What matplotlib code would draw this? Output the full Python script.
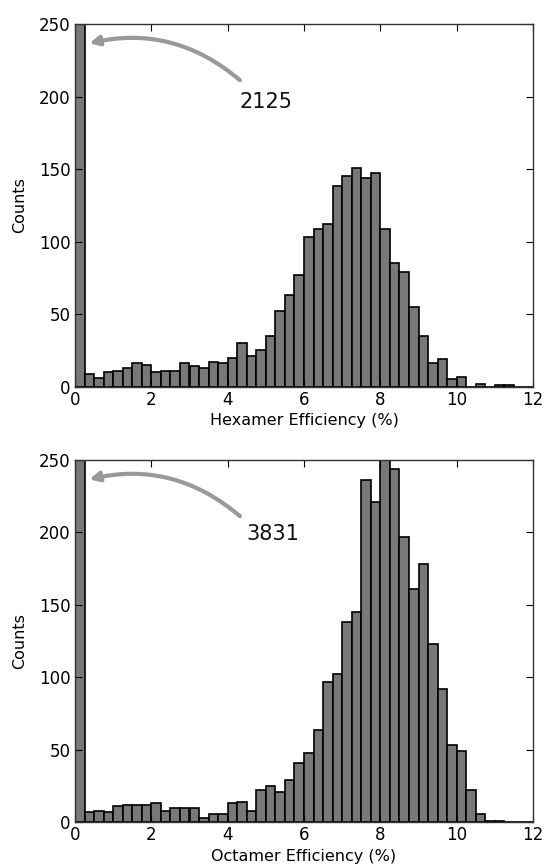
import numpy as np
import matplotlib
matplotlib.use("Agg")
import matplotlib.pyplot as plt

bin_edges = np.linspace(0, 12, 49)

hexamer_counts = [2125, 9, 6, 10, 11, 13, 16, 15, 10, 11, 11, 16, 14, 13, 17, 16,
                  20, 30, 21, 25, 35, 52, 63, 77, 103, 109, 112, 138, 145, 151, 144, 147,
                  109, 85, 79, 55, 35, 16, 19, 5, 7, 0, 2, 0, 1, 1, 0, 0]
octamer_counts = [3831, 7, 8, 7, 11, 12, 12, 12, 13, 8, 10, 10, 10, 3, 6, 6,
                  13, 14, 8, 22, 25, 21, 29, 41, 48, 64, 97, 102, 138, 145, 236, 221,
                  262, 244, 197, 161, 178, 123, 92, 53, 49, 22, 6, 1, 1, 0, 0, 0]

xlabels = ["Hexamer Efficiency (%)", "Octamer Efficiency (%)"]
first_bin_labels = ["2125", "3831"]
xticks = [0, 2, 4, 6, 8, 10, 12]
yticks = [0, 50, 100, 150, 200, 250]

plt.rcParams['font.family'] = ['DejaVu Sans']

fig = plt.figure(figsize=(5.44, 8.66), dpi=100)
W, H = 544, 866
positions = [
    [75 / W, 1 - 386.7 / H, 458 / W, 362.7 / H],
    [75 / W, 1 - 822.3 / H, 458 / W, 362.3 / H],
]
label_xy = [(4.32, 191.9), (4.48, 194.8)]

for i, counts in enumerate([hexamer_counts, octamer_counts]):
    ax = fig.add_axes(positions[i])
    ax.bar(bin_edges[:-1], counts, width=np.diff(bin_edges), align='edge',
           color='#787878', edgecolor='black', linewidth=1.2)
    ax.set_xlim(0, 12)
    ax.set_ylim(0, 250)
    ax.set_xticks(xticks)
    ax.set_yticks(yticks)
    ax.tick_params(direction='in', top=True, right=True, length=5, width=0.8,
                   labelsize=12, pad=3)
    for s in ax.spines.values():
        s.set_linewidth(1.0)
        s.set_color('#333333')
    ax.set_xlabel(xlabels[i], fontsize=11.5, labelpad=3)
    ax.set_ylabel("Counts", fontsize=11.5, labelpad=9)
    tx, ty = label_xy[i]
    ax.text(tx, ty, first_bin_labels[i], fontsize=15, ha='left', va='baseline',
            color='#111111')
    ax.annotate('', xy=(0.375, 236.7), xytext=(4.32, 211.3),
                arrowprops=dict(arrowstyle='-|>', color='#999999', lw=3,
                                mutation_scale=14, shrinkA=0, shrinkB=0,
                                connectionstyle='arc3,rad=0.25'))

fig.savefig("out.png", dpi=100)
